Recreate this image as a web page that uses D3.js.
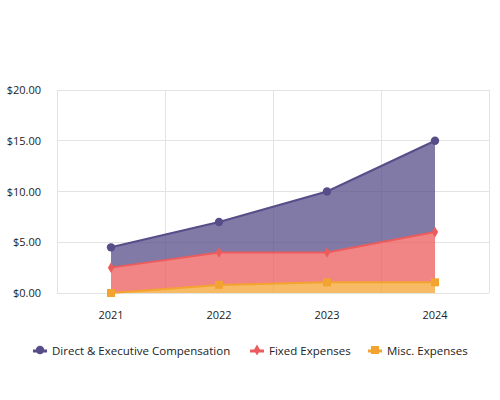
<!DOCTYPE html>
<html>
<head>
<meta charset="utf-8">
<script src="https://cdn.jsdelivr.net/npm/d3@7"></script>
<style>
  body { margin: 0; background: #fff; }
  text { font-family: "Segoe UI", "Open Sans", sans-serif; fill: #222; }
</style>
</head>
<body>
<div id="chart"></div>
<script>
(function() {
  var width = 500,
      height = 400,
      margin = { top: 90, left: 57, right: 11, bottom: 107 };

  var years = ["2021", "2022", "2023", "2024"]
  var compensation = [4.5, 7, 10, 15]
  var fixedExpenses = [2.5, 4, 4, 6]
  var miscExpenses = [0, 0.8, 1.05, 1.05]
  var seriesNames = ["Direct & Executive Compensation", "Fixed Expenses", "Misc. Expenses"]
  var yTicks = [0, 5, 10, 15, 20]

  var colors = ["#574e89", "#ec5c5c", "#f3a430"]
  var shapes = [d3.symbolCircle, d3.symbolDiamond, d3.symbolSquare]
  var sizes = [55, 34, 64]

  var series = [compensation, fixedExpenses, miscExpenses]

  var svg = d3.select("#chart")
    .append("svg")
    .attr("width", width)
    .attr("height", height)

  var x = d3.scaleBand().domain(years).range([margin.left, width - margin.right])
  var y = d3.scaleLinear().domain([0, 20]).range([height - margin.bottom, margin.top])

  var xc = function(i) { return x(years[i]) + x.bandwidth() / 2 }

  // grid
  svg.selectAll(".hgrid")
    .data(yTicks)
    .enter().append("line")
    .attr("class", "hgrid")
    .attr("x1", margin.left)
    .attr("x2", width - margin.right)
    .attr("y1", function(d) { return y(d) })
    .attr("y2", function(d) { return y(d) })
    .attr("stroke", "#e3e3e3")
    .attr("stroke-width", 1)
    .attr("shape-rendering", "crispEdges")

  var vlines = years.map(function(d) { return x(d) }).concat([width - margin.right])
  svg.selectAll(".vgrid")
    .data(vlines)
    .enter().append("line")
    .attr("class", "vgrid")
    .attr("x1", function(d) { return d })
    .attr("x2", function(d) { return d })
    .attr("y1", y(20))
    .attr("y2", y(0))
    .attr("stroke", "#e3e3e3")
    .attr("stroke-width", 1)
    .attr("shape-rendering", "crispEdges")

  // y axis labels
  svg.selectAll(".ylabel")
    .data(yTicks)
    .enter().append("text")
    .attr("class", "ylabel")
    .attr("x", 41)
    .attr("y", function(d) { return y(d) + 4 })
    .style("font-size", "11px")
    .style("text-anchor", "end")
    .text(function(d) { return "$" + d3.format(".2f")(d) })

  // x axis labels
  svg.selectAll(".xlabel")
    .data(years)
    .enter().append("text")
    .attr("class", "xlabel")
    .attr("x", function(d) { return x(d) + x.bandwidth() / 2 })
    .attr("y", 319)
    .style("font-size", "11px")
    .style("text-anchor", "middle")
    .text(function(d) { return d })

  // areas, each filled down to the series below it
  series.forEach(function(vals, s) {
    var below = series[s + 1]
    var area = d3.area()
      .x(function(d, i) { return xc(i) })
      .y0(function(d, i) { return below ? y(below[i]) : y(0) })
      .y1(function(d) { return y(d) })

    svg.append("path")
      .datum(vals)
      .attr("d", area)
      .attr("fill", colors[s])
      .attr("fill-opacity", 0.75)
  })

  series.forEach(function(vals, s) {
    var line = d3.line()
      .x(function(d, i) { return xc(i) })
      .y(function(d) { return y(d) })

    svg.append("path")
      .datum(vals)
      .attr("d", line)
      .attr("fill", "none")
      .attr("stroke", colors[s])
      .attr("stroke-width", 2)

    svg.selectAll(".marker" + s)
      .data(vals)
      .enter().append("path")
      .attr("class", "marker" + s)
      .attr("transform", function(d, i) { return "translate(" + xc(i) + "," + y(d) + ")" })
      .attr("d", d3.symbol().type(shapes[s]).size(sizes[s]))
      .attr("fill", colors[s])
  })

  // legend
  var legendX = [33, 250, 368]
  var legend = svg.selectAll(".legend")
    .data(seriesNames)
    .enter().append("g")
    .attr("class", "legend")
    .attr("transform", function(d, i) { return "translate(" + legendX[i] + ",351)" })

  legend.append("line")
    .attr("x1", 0)
    .attr("x2", 14)
    .attr("y1", 0)
    .attr("y2", 0)
    .attr("stroke", function(d, i) { return colors[i] })
    .attr("stroke-width", 3)

  legend.append("path")
    .attr("transform", "translate(7,-1)")
    .attr("d", function(d, i) { return d3.symbol().type(shapes[i]).size(sizes[i])() })
    .attr("fill", function(d, i) { return colors[i] })

  legend.append("text")
    .attr("x", 19)
    .attr("y", 4)
    .style("font-size", "11.5px")
    .text(function(d) { return d })
})();
</script>
</body>
</html>
